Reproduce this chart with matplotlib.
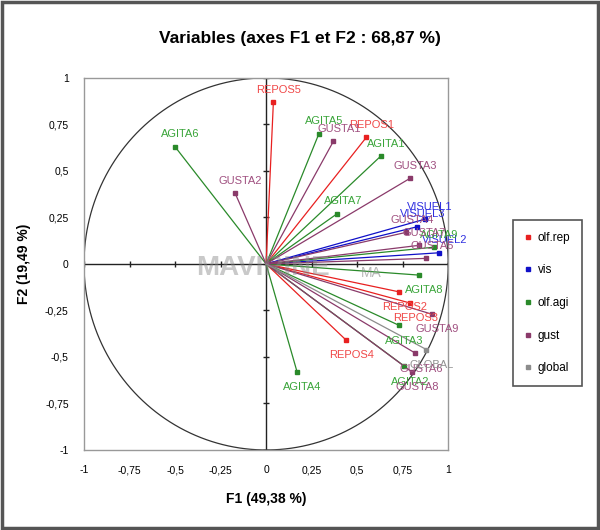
import matplotlib.pyplot as plt
import numpy as np

plt.rcParams["font.family"] = ["Liberation Sans", "DejaVu Sans"]

# variable coordinates on F1 / F2
rep_names = ["REPOS1", "REPOS2", "REPOS3", "REPOS4", "REPOS5"]
rep_x = [0.55, 0.73, 0.79, 0.44, 0.04]
rep_y = [0.68, -0.15, -0.21, -0.41, 0.87]

vis_names = ["VISUEL1", "VISUEL2", "VISUEL3"]
vis_x = [0.87, 0.95, 0.83]
vis_y = [0.24, 0.06, 0.20]

agi_names = ["AGITA1", "AGITA2", "AGITA3", "AGITA4", "AGITA5",
             "AGITA6", "AGITA7", "AGITA8", "AGITA9"]
agi_x = [0.63, 0.76, 0.73, 0.17, 0.29, -0.50, 0.39, 0.84, 0.92]
agi_y = [0.58, -0.55, -0.33, -0.58, 0.70, 0.63, 0.27, -0.06, 0.09]

gust_names = ["GUSTA1", "GUSTA2", "GUSTA3", "GUSTA4", "GUSTA5",
              "GUSTA6", "GUSTA7", "GUSTA8", "GUSTA9"]
gust_x = [0.37, -0.17, 0.79, 0.77, 0.88, 0.82, 0.84, 0.80, 0.91]
gust_y = [0.66, 0.38, 0.46, 0.17, 0.03, -0.48, 0.10, -0.58, -0.27]

glob_names = ["GLOBAL"]
glob_x = [0.88]
glob_y = [-0.46]

ticks = [-1, -0.75, -0.5, -0.25, 0, 0.25, 0.5, 0.75, 1]

groups = [
    ("olf.rep", rep_names, rep_x, rep_y, "#e82020", "#f04848"),
    ("vis", vis_names, vis_x, vis_y, "#1010c8", "#3030e0"),
    ("olf.agi", agi_names, agi_x, agi_y, "#2a8a2a", "#3aa53a"),
    ("gust", gust_names, gust_x, gust_y, "#8a3a6a", "#a05080"),
    ("global", glob_names, glob_x, glob_y, "#8c8c8c", "#909090"),
]


def fmt(v):
    s = "%g" % v
    return s.replace(".", ",")


fig = plt.figure(figsize=(6, 5.3), dpi=100)
ax = fig.add_axes([0.14, 0.151, 0.607, 0.702])

# unit circle and center axes
t = np.linspace(0, 2 * np.pi, 400)
ax.plot(np.cos(t), np.sin(t), color="#333333", lw=0.9, zorder=1)
ax.axhline(0, color="#222222", lw=1.0, zorder=1)
ax.axvline(0, color="#222222", lw=1.0, zorder=1)
ax.plot(ticks, [0] * len(ticks), ls="none", marker="|", ms=5, color="#222222", zorder=1)
ax.plot([0] * len(ticks), ticks, ls="none", marker="_", ms=5, color="#222222", zorder=1)

for gname, names, xs, ys, col, tcol in groups:
    for n, x, y in zip(names, xs, ys):
        ax.plot([0, x], [0, y], color=col, lw=0.9, zorder=2)
        ax.plot(x, y, marker="s", ms=2.5, color=col, zorder=3)
        dy = 9 if y >= 0 else -11
        ax.annotate(n, (x, y), xytext=(4, dy), textcoords="offset points",
                    ha="center", va="center", fontsize=8, color=tcol, zorder=4)
    ax.plot([], [], ls="none", marker="s", ms=2.5, color=col, label=gname)

ax.text(-0.02, -0.02, "MAVIRINE", fontsize=20, fontweight="bold", color="#888888",
        alpha=0.45, ha="center", va="center", zorder=5)
ax.text(0.58, -0.05, "MA", fontsize=10, color="#888888", alpha=0.6,
        ha="center", va="center", zorder=5)

ax.set_xlim(-1, 1)
ax.set_ylim(-1, 1)
ax.set_xticks(ticks)
ax.set_yticks(ticks)
ax.set_xticklabels([fmt(v) for v in ticks], fontsize=7.5)
ax.set_yticklabels([fmt(v) for v in ticks], fontsize=7.5)
ax.tick_params(length=0, pad=11)
for sp in ax.spines.values():
    sp.set_color("#999999")
    sp.set_linewidth(1.0)

ax.set_xlabel("F1 (49,38 %)", fontsize=10, fontweight="bold", labelpad=12)
ax.set_ylabel("F2 (19,49 %)", fontsize=10, fontweight="bold", labelpad=10)
fig.text(0.5, 0.928, "Variables (axes F1 et F2 : 68,87 %)", ha="center",
         va="center", fontsize=12.5, fontweight="bold")

leg = fig.legend(loc="upper left", bbox_to_anchor=(0.845, 0.596), fontsize=8.5,
                 labelspacing=1.75, handlelength=0.6, handletextpad=0.5,
                 borderpad=1.0, fancybox=False, framealpha=1)
leg.get_frame().set_edgecolor("#555555")
leg.get_frame().set_linewidth(1.2)

fig.patches.append(plt.Rectangle((0.003, 0.003), 0.994, 0.994, transform=fig.transFigure,
                                 fill=False, edgecolor="#555555", lw=2.5))

fig.savefig("out.png", dpi=100)
